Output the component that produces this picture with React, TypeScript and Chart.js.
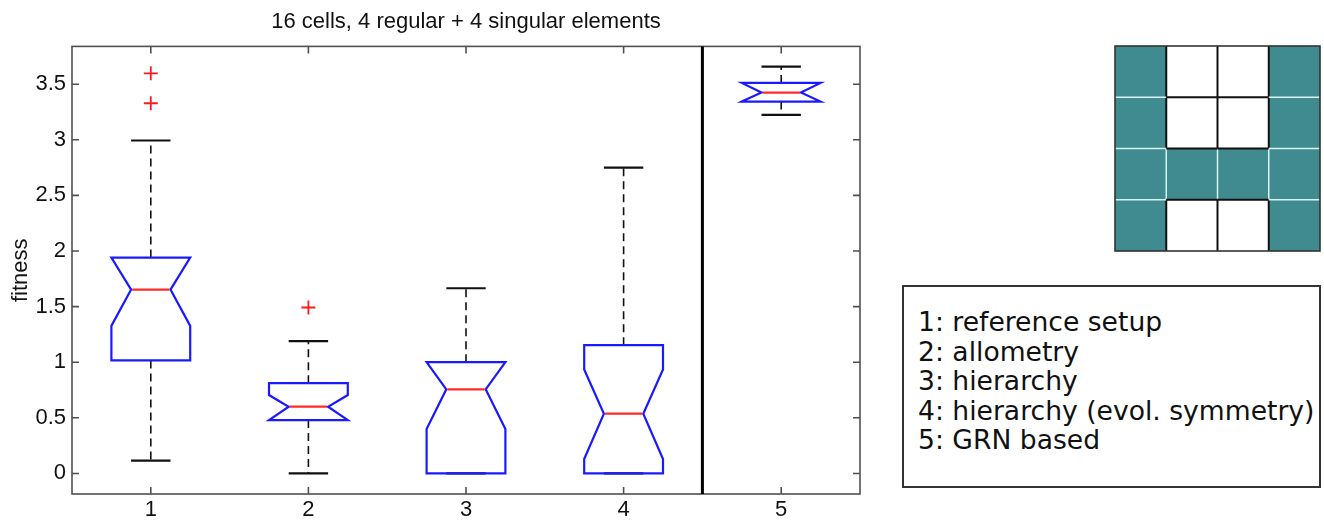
import React, { useEffect, useRef } from 'react';
import { Chart, registerables } from 'chart.js';

Chart.register(...registerables);

// ---------- data ----------
const chartTitle = '16 cells, 4 regular + 4 singular elements';
const yAxisLabel = 'fitness';
const categories = ['1', '2', '3', '4', '5'];
const whiskerLow = [0.115, 0.0, 0.0, 0.0, 3.224];
const q1 = [1.016, 0.48, 0.0, 0.0, 3.344];
const notchLow = [1.327, 0.48, 0.4, 0.13, 3.344];
const median = [1.653, 0.6, 0.756, 0.537, 3.425];
const notchHigh = [1.941, 0.705, 1.0, 0.935, 3.512];
const q3 = [1.941, 0.812, 1.0, 1.153, 3.512];
const whiskerHigh = [2.994, 1.189, 1.665, 2.749, 3.658];
const outliers1 = [3.598, 3.329];
const outliers2 = [1.492];
const outliers3: number[] = [];
const outliers4: number[] = [];
const outliers5: number[] = [];
const outliers = [outliers1, outliers2, outliers3, outliers4, outliers5];
const yTicks = [0, 0.5, 1, 1.5, 2, 2.5, 3, 3.5];
const yTickLabels = ['0', '0.5', '1', '1.5', '2', '2.5', '3', '3.5'];
const yMin = -0.185;
const yMax = 3.84;
const separatorAfterGroup = 4; // thick divider between group 4 and group 5

const legendLines = [
  '1: reference setup',
  '2: allometry',
  '3: hierarchy',
  '4: hierarchy (evol. symmetry)',
  '5: GRN based',
];

// 1 = filled (teal) cell, 0 = empty cell
const gridPattern = [
  [1, 0, 0, 1],
  [1, 0, 0, 1],
  [1, 1, 1, 1],
  [1, 0, 0, 1],
];

// ---------- style ----------
const FONT = "'Liberation Sans', Arial, Helvetica, sans-serif";
const FS = 22;
const BOX_W = 0.5;
const NOTCH_W = 0.25;
const CAP_W = 0.25;
const AXIS_COLOR = '#505050';
const TEAL = '#3f8b8f';

const boxPlotPlugin = {
  id: 'boxPlotPlugin',
  beforeDatasetsDraw(chart: any) {
    const { ctx, scales } = chart;
    const xs = scales.x;
    const ys = scales.y;
    ctx.save();
    // whiskers + caps
    for (let i = 0; i < categories.length; i++) {
      const xc = xs.getPixelForValue(i + 1);
      const capL = xs.getPixelForValue(i + 1 - CAP_W / 2);
      const capR = xs.getPixelForValue(i + 1 + CAP_W / 2);
      ctx.strokeStyle = '#111';
      ctx.lineWidth = 1.6;
      ctx.setLineDash([8, 5]);
      ctx.beginPath();
      ctx.moveTo(xc, ys.getPixelForValue(q3[i]));
      ctx.lineTo(xc, ys.getPixelForValue(whiskerHigh[i]));
      ctx.moveTo(xc, ys.getPixelForValue(q1[i]));
      ctx.lineTo(xc, ys.getPixelForValue(whiskerLow[i]));
      ctx.stroke();
      ctx.setLineDash([]);
      ctx.lineWidth = 2.2;
      ctx.beginPath();
      const yh = ys.getPixelForValue(whiskerHigh[i]);
      const yl = ys.getPixelForValue(whiskerLow[i]);
      ctx.moveTo(capL, yh);
      ctx.lineTo(capR, yh);
      ctx.moveTo(capL, yl);
      ctx.lineTo(capR, yl);
      ctx.stroke();
    }
    // notched boxes
    for (let i = 0; i < categories.length; i++) {
      const L = xs.getPixelForValue(i + 1 - BOX_W / 2);
      const R = xs.getPixelForValue(i + 1 + BOX_W / 2);
      const nL = xs.getPixelForValue(i + 1 - NOTCH_W / 2);
      const nR = xs.getPixelForValue(i + 1 + NOTCH_W / 2);
      const yq1 = ys.getPixelForValue(q1[i]);
      const yq3 = ys.getPixelForValue(q3[i]);
      const ynl = ys.getPixelForValue(notchLow[i]);
      const ynh = ys.getPixelForValue(notchHigh[i]);
      const ym = ys.getPixelForValue(median[i]);
      ctx.strokeStyle = '#1a1aff';
      ctx.lineWidth = 2.2;
      ctx.lineJoin = 'miter';
      ctx.beginPath();
      ctx.moveTo(L, yq1);
      ctx.lineTo(L, ynl);
      ctx.lineTo(nL, ym);
      ctx.lineTo(L, ynh);
      ctx.lineTo(L, yq3);
      ctx.lineTo(R, yq3);
      ctx.lineTo(R, ynh);
      ctx.lineTo(nR, ym);
      ctx.lineTo(R, ynl);
      ctx.lineTo(R, yq1);
      ctx.closePath();
      ctx.stroke();
      ctx.strokeStyle = '#ff2a2a';
      ctx.lineWidth = 2.2;
      ctx.beginPath();
      ctx.moveTo(nL + 1, ym);
      ctx.lineTo(nR - 1, ym);
      ctx.stroke();
    }
    ctx.restore();
  },
  afterDraw(chart: any) {
    const { ctx, chartArea, scales } = chart;
    const xs = scales.x;
    const ys = scales.y;
    const { left, right, top, bottom } = chartArea;
    ctx.save();
    ctx.strokeStyle = AXIS_COLOR;
    ctx.lineWidth = 1.6;
    ctx.strokeRect(left, top, right - left, bottom - top);
    const TL = 7;
    ctx.beginPath();
    xs.ticks.forEach((t: any) => {
      const x = xs.getPixelForValue(t.value);
      ctx.moveTo(x, bottom);
      ctx.lineTo(x, bottom - TL);
      ctx.moveTo(x, top);
      ctx.lineTo(x, top + TL);
    });
    ys.ticks.forEach((t: any) => {
      const y = ys.getPixelForValue(t.value);
      ctx.moveTo(left, y);
      ctx.lineTo(left + TL, y);
      ctx.moveTo(right, y);
      ctx.lineTo(right - TL, y);
    });
    ctx.stroke();
    // separator
    const sx = xs.getPixelForValue(separatorAfterGroup + 0.5);
    ctx.strokeStyle = '#000';
    ctx.lineWidth = 3;
    ctx.beginPath();
    ctx.moveTo(sx, top);
    ctx.lineTo(sx, bottom);
    ctx.stroke();
    ctx.restore();
  },
};

function BoxChart() {
  const ref = useRef<HTMLCanvasElement>(null);
  useEffect(() => {
    if (!ref.current) return;
    const outlierPoints = outliers.flatMap((arr, i) => arr.map((v) => ({ x: i + 1, y: v })));
    const chart = new Chart(ref.current, {
      type: 'scatter',
      data: {
        datasets: [
          {
            label: 'outliers',
            data: outlierPoints,
            pointStyle: 'cross',
            pointRadius: 7,
            pointBorderWidth: 1.8,
            borderColor: '#ff1a1a',
            backgroundColor: '#ff1a1a',
          },
        ],
      },
      options: {
        responsive: false,
        animation: false,
        layout: { padding: { left: 0, right: 20, top: 0, bottom: 0 } },
        plugins: {
          legend: { display: false },
          tooltip: { enabled: false },
          title: {
            display: true,
            text: chartTitle,
            fullSize: false,
            color: '#111',
            font: { family: FONT, size: FS, weight: 'normal' },
            padding: { top: 9, bottom: 11 },
          },
        },
        scales: {
          x: {
            type: 'linear',
            min: 0.5,
            max: 5.5,
            grid: { display: false, drawTicks: false, tickLength: 0 },
            border: { display: false },
            afterBuildTicks: (s: any) => {
              s.ticks = categories.map((_, i) => ({ value: i + 1 }));
            },
            afterFit: (s: any) => {
              s.height = 26;
            },
            ticks: {
              autoSkip: false,
              maxRotation: 0,
              padding: 3,
              color: '#111',
              font: { family: FONT, size: FS },
              callback: (v: any) => categories[Math.round(Number(v)) - 1] ?? '',
            },
          },
          y: {
            type: 'linear',
            min: yMin,
            max: yMax,
            grid: { display: false, drawTicks: false, tickLength: 0 },
            border: { display: false },
            afterBuildTicks: (s: any) => {
              s.ticks = yTicks.map((v) => ({ value: v }));
            },
            afterFit: (s: any) => {
              s.width = 72;
            },
            title: {
              display: true,
              text: yAxisLabel,
              color: '#111',
              font: { family: FONT, size: FS },
              padding: { top: 8, bottom: 0 },
            },
            ticks: {
              autoSkip: false,
              padding: 6,
              color: '#111',
              font: { family: FONT, size: FS },
              callback: (_v: any, idx: number) => yTickLabels[idx],
            },
          },
        },
      },
      plugins: [boxPlotPlugin],
    } as any);
    return () => chart.destroy();
  }, []);
  return <canvas ref={ref} width={880} height={520} style={{ display: 'block', width: 880, height: 520 }} />;
}

function CellGrid() {
  const size = 205;
  const n = gridPattern.length;
  const c = size / n;
  const lines: React.ReactNode[] = [];
  for (let r = 0; r < n; r++) {
    for (let k = 0; k < n - 1; k++) {
      const both = gridPattern[r][k] === 1 && gridPattern[r][k + 1] === 1;
      lines.push(
        <line key={`v${r}-${k}`} x1={(k + 1) * c} y1={r * c} x2={(k + 1) * c} y2={(r + 1) * c}
          stroke={both ? '#d8f4f4' : '#111'} strokeWidth={both ? 1.5 : 2} />
      );
    }
  }
  for (let r = 0; r < n - 1; r++) {
    for (let k = 0; k < n; k++) {
      const both = gridPattern[r][k] === 1 && gridPattern[r + 1][k] === 1;
      lines.push(
        <line key={`h${r}-${k}`} x1={k * c} y1={(r + 1) * c} x2={(k + 1) * c} y2={(r + 1) * c}
          stroke={both ? '#d8f4f4' : '#111'} strokeWidth={both ? 1.5 : 2} />
      );
    }
  }
  return (
    <svg width={size + 2} height={size + 2} style={{ position: 'absolute', left: 1114, top: 45 }}>
      <g transform="translate(1,1)">
        {gridPattern.map((row, r) =>
          row.map((v, k) => (
            <rect key={`c${r}-${k}`} x={k * c} y={r * c} width={c} height={c} fill={v ? TEAL : '#fff'} />
          ))
        )}
        {lines}
        <rect x={0} y={0} width={size} height={size} fill="none" stroke="#333" strokeWidth={1.6} />
      </g>
    </svg>
  );
}

function LegendBox() {
  return (
    <div
      style={{
        position: 'absolute',
        left: 902,
        top: 285,
        width: 419,
        height: 203,
        boxSizing: 'border-box',
        border: '2px solid #333',
        paddingTop: 20,
        paddingLeft: 14,
        fontFamily: "'DejaVu Sans', Verdana, sans-serif",
        fontSize: 26.6,
        lineHeight: '29.5px',
        color: '#111',
        whiteSpace: 'nowrap',
      }}
    >
      {legendLines.map((t) => (
        <div key={t}>{t}</div>
      ))}
    </div>
  );
}

export default function App() {
  return (
    <div style={{ position: 'absolute', left: 0, top: 0, width: 1324, height: 520, background: '#fff', overflow: 'hidden' }}>
      <div style={{ position: 'absolute', left: 0, top: 0 }}>
        <BoxChart />
      </div>
      <CellGrid />
      <LegendBox />
    </div>
  );
}
